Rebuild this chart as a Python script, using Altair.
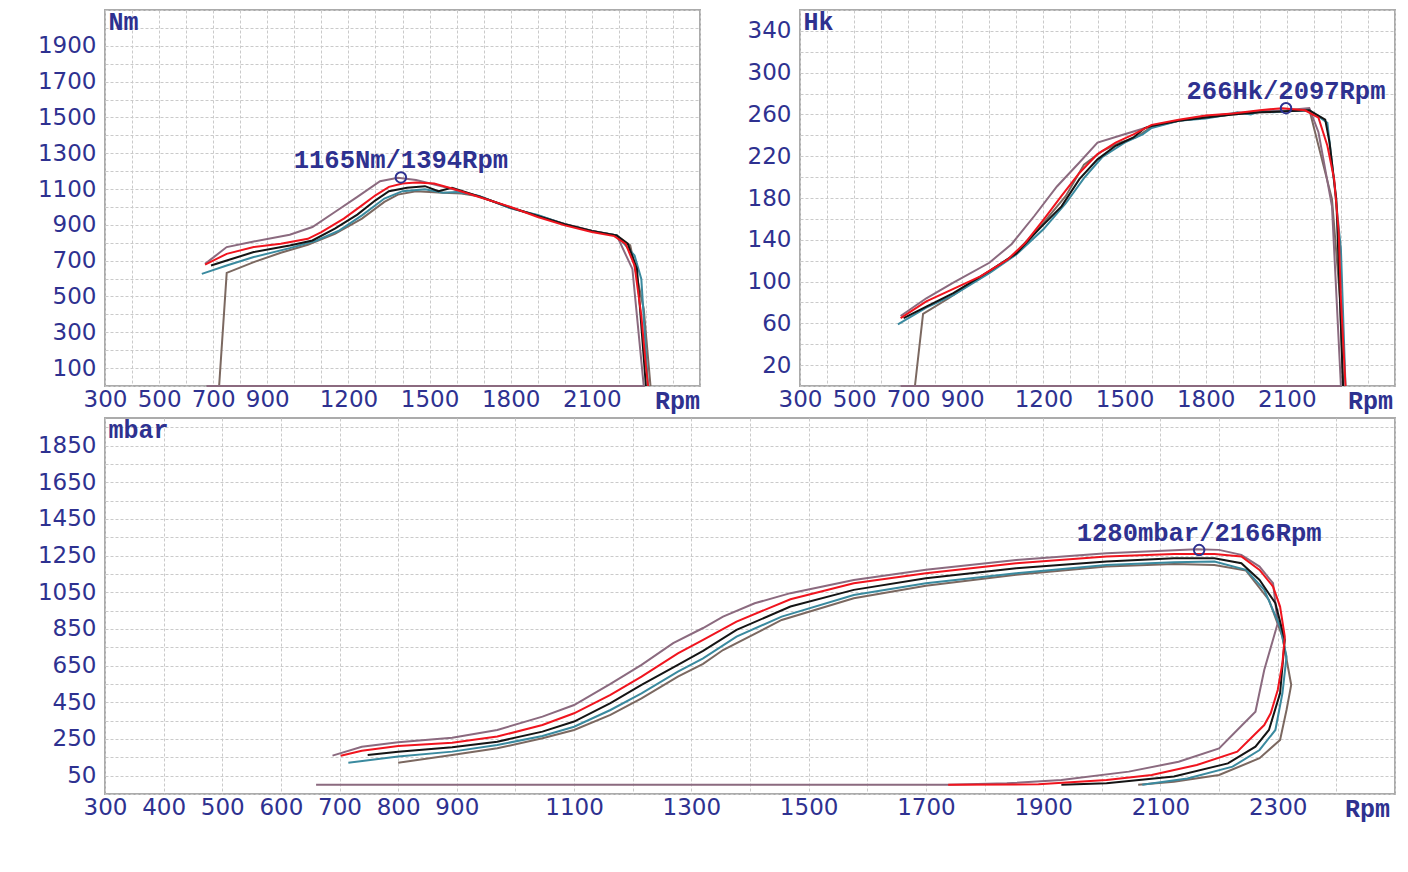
import altair as alt
import pandas as pd

# ---------------- data ----------------
SERIES = ["brown", "mauve", "teal", "black", "red"]
COLORS = ["#7B6860", "#8B6A7F", "#3A8A9F", "#141414", "#F0141E"]

# Torque (Nm)
nm_red_rpm = [670, 750, 850, 950, 1050, 1100, 1183, 1250, 1300, 1350, 1400, 1450, 1517, 1583, 1683, 1800, 1900, 2000, 2100, 2183, 2225, 2258, 2283, 2300, 2308]
nm_red_val = [678, 738, 776, 794, 822, 860, 935, 1009, 1065, 1112, 1131, 1136, 1131, 1103, 1056, 1000, 944, 897, 860, 837, 794, 673, 393, 112, 0]
nm_mauve_rpm = [670, 750, 850, 983, 1067, 1150, 1233, 1317, 1383, 1450, 1567, 1683, 1800, 1900, 2000, 2100, 2192, 2250, 2292, 675]
nm_mauve_val = [682, 776, 807, 845, 888, 972, 1056, 1144, 1163, 1150, 1107, 1060, 995, 952, 905, 867, 841, 654, 0, 0]
nm_black_rpm = [692, 750, 850, 983, 1067, 1150, 1233, 1300, 1350, 1417, 1483, 1533, 1583, 1683, 1800, 1900, 2000, 2100, 2192, 2233, 2267, 2300]
nm_black_val = [673, 701, 748, 785, 813, 879, 957, 1037, 1088, 1107, 1116, 1088, 1107, 1058, 997, 950, 903, 866, 841, 794, 654, 0]
nm_teal_rpm = [658, 750, 850, 983, 1083, 1167, 1250, 1333, 1400, 1483, 1550, 1600, 1683, 1800, 1900, 2000, 2100, 2192, 2258, 2283, 2308]
nm_teal_val = [626, 673, 720, 770, 813, 869, 953, 1047, 1088, 1099, 1080, 1084, 1062, 992, 955, 902, 865, 841, 729, 598, 0]
nm_brown_rpm = [722, 750, 850, 950, 1050, 1150, 1250, 1333, 1383, 1450, 1550, 1617, 1683, 1800, 1900, 2000, 2100, 2192, 2242, 2292, 2317]
nm_brown_val = [0, 632, 692, 744, 789, 850, 935, 1028, 1069, 1088, 1080, 1075, 1060, 994, 951, 904, 866, 841, 785, 430, 0]

# Power (Hk)
hk_red_rpm = [672, 767, 867, 967, 1067, 1133, 1200, 1267, 1333, 1400, 1467, 1533, 1600, 1700, 1800, 1900, 2000, 2083, 2167, 2217, 2250, 2275, 2292, 2300, 2317]
hk_red_val = [65, 81, 93, 105, 121, 137, 159, 182, 204, 222, 233, 241, 250, 255, 259, 261, 264, 266, 264, 257, 230, 198, 147, 83, 0]
hk_mauve_rpm = [672, 767, 867, 1000, 1083, 1167, 1250, 1333, 1400, 1500, 1600, 1700, 1800, 1900, 2000, 2100, 2183, 2217, 2267, 2300, 672]
hk_mauve_val = [67, 84, 99, 118, 136, 163, 191, 214, 233, 241, 249, 254, 258, 261, 263, 264, 266, 243, 172, 0, 0]
hk_black_rpm = [683, 767, 867, 1000, 1100, 1183, 1267, 1333, 1400, 1467, 1533, 1575, 1600, 1700, 1800, 1900, 2000, 2100, 2183, 2242, 2258, 2283, 2308]
hk_black_val = [65, 76, 89, 110, 127, 150, 172, 198, 217, 230, 238, 247, 249, 254, 257, 260, 262, 263, 264, 255, 233, 179, 0]
hk_teal_rpm = [662, 767, 867, 1000, 1100, 1200, 1283, 1350, 1417, 1500, 1567, 1600, 1700, 1800, 1867, 1917, 1967, 2000, 2050, 2100, 2183, 2250, 2275, 2300, 2317]
hk_teal_val = [59, 75, 87, 108, 126, 150, 175, 199, 219, 233, 241, 247, 254, 256, 259, 262, 260, 263, 262, 263, 264, 252, 195, 131, 0]
hk_brown_rpm = [725, 755, 850, 983, 1083, 1183, 1283, 1350, 1417, 1483, 1542, 1600, 1700, 1800, 1900, 2000, 2100, 2183, 2267, 2297, 2308]
hk_brown_val = [0, 69, 84, 107, 124, 151, 182, 212, 225, 233, 238, 248, 254, 257, 260, 262, 263, 265, 179, 83, 0]

# Boost (mbar)
mb_red_rpm = [702, 738, 800, 892, 969, 1046, 1100, 1162, 1215, 1277, 1320, 1377, 1469, 1577, 1700, 1854, 2008, 2123, 2192, 2238, 2269, 2292, 2304, 2312, 2308, 2300, 2288, 2277, 2231, 2162, 2085, 2008, 1892, 1738]
mb_red_val = [159, 186, 212, 230, 263, 326, 390, 490, 590, 717, 790, 890, 1012, 1099, 1154, 1208, 1245, 1259, 1259, 1245, 1172, 1081, 972, 808, 663, 517, 390, 326, 181, 108, 54, 26, 3, 0]
mb_mauve_rpm = [688, 738, 800, 892, 969, 1046, 1100, 1162, 1215, 1269, 1320, 1354, 1408, 1469, 1577, 1700, 1854, 2008, 2162, 2200, 2238, 2269, 2292, 2300, 2277, 2262, 2231, 2200, 2131, 2046, 1931, 1838, 1738, 660]
mb_mauve_val = [159, 208, 232, 257, 299, 372, 435, 550, 654, 772, 855, 917, 990, 1045, 1117, 1172, 1226, 1263, 1285, 1281, 1254, 1190, 1099, 881, 626, 399, 299, 199, 126, 72, 26, 8, 0, 0]
mb_black_rpm = [748, 800, 892, 969, 1046, 1100, 1162, 1215, 1277, 1320, 1377, 1469, 1577, 1700, 1854, 2008, 2123, 2192, 2238, 2269, 2296, 2312, 2304, 2285, 2262, 2215, 2123, 2008, 1931]
mb_black_val = [163, 181, 205, 235, 290, 345, 445, 545, 654, 730, 845, 972, 1063, 1126, 1181, 1217, 1235, 1235, 1208, 1117, 990, 790, 499, 299, 208, 117, 45, 8, 0]
mb_teal_rpm = [715, 800, 892, 969, 1046, 1100, 1162, 1215, 1277, 1320, 1377, 1454, 1577, 1700, 1854, 2008, 2123, 2192, 2246, 2277, 2304, 2315, 2308, 2296, 2269, 2223, 2146, 2069]
mb_teal_val = [121, 154, 181, 217, 266, 317, 408, 499, 617, 690, 808, 917, 1035, 1099, 1154, 1199, 1214, 1217, 1172, 1063, 863, 699, 499, 299, 190, 99, 35, 0]
mb_brown_rpm = [800, 892, 969, 1046, 1100, 1162, 1215, 1277, 1320, 1354, 1454, 1577, 1700, 1854, 2008, 2123, 2192, 2246, 2285, 2308, 2323, 2315, 2304, 2269, 2200, 2123, 2062]
mb_brown_val = [121, 163, 199, 254, 299, 381, 472, 590, 660, 735, 899, 1017, 1086, 1145, 1190, 1204, 1199, 1168, 1008, 808, 545, 408, 245, 145, 54, 17, 0]

# peaks
nm_peak = {"rpm": [1394], "val": [1165], "label": ["1165Nm/1394Rpm"]}
hk_peak = {"rpm": [2097], "val": [266], "label": ["266Hk/2097Rpm"]}
mb_peak = {"rpm": [2166], "val": [1280], "label": ["1280mbar/2166Rpm"]}

# axis ticks
top_x_labels = [300, 500, 700, 900, 1200, 1500, 1800, 2100]
bot_x_labels = [300, 400, 500, 600, 700, 800, 900, 1100, 1300, 1500, 1700, 1900, 2100, 2300]
x_grid = list(range(300, 2501, 100))
nm_grid = list(range(0, 2101, 100))
nm_labels = list(range(100, 2000, 200))
hk_grid = list(range(0, 361, 20))
hk_labels = list(range(20, 341, 40))
mb_grid = list(range(-50, 2001, 100))
mb_labels = list(range(50, 1851, 200))

NAVY = "#2E3190"
TICK_FONT = "DejaVu Sans"
MONO = "Liberation Mono"


def frame(parts):
    rows = []
    for name, rpm, val in parts:
        for i, (r, v) in enumerate(zip(rpm, val)):
            rows.append({"series": name, "rpm": r, "val": v, "idx": i})
    return pd.DataFrame(rows)


def label_expr(vals):
    arr = ",".join(str(v) for v in vals)
    return f"indexof([{arr}], datum.value) >= 0 ? datum.label : ''"


def panel(df, peak, width, xlabels, ygrid, ylabels, ydom, unit, rpm_title_x):
    xaxis = alt.Axis(
        values=x_grid, labelExpr=label_expr(xlabels), format="d",
        grid=True, gridColor="#CACACA", gridDash=[3, 2], gridWidth=1,
        ticks=False, domain=False, labelFlush=False, labelOverlap=False,
        labelPadding=2, labelFont=TICK_FONT, labelFontSize=23, labelColor=NAVY,
        title="Rpm", titleX=rpm_title_x, titleY=14, titleAlign="center",
        titleBaseline="middle", titleFont=MONO, titleFontSize=25,
        titleFontWeight="bold", titleColor=NAVY,
    )
    yaxis = alt.Axis(
        values=ygrid, labelExpr=label_expr(ylabels), format="d",
        grid=True, gridColor="#CACACA", gridDash=[3, 2], gridWidth=1,
        ticks=False, domain=False, labelFlush=False, labelOverlap=False,
        labelPadding=9, labelFont=TICK_FONT, labelFontSize=23, labelColor=NAVY,
        title=unit, titleAngle=0, titleX=3, titleY=11, titleAlign="left",
        titleBaseline="middle", titleFont=MONO, titleFontSize=25,
        titleFontWeight="bold", titleColor=NAVY,
    )
    xs = alt.Scale(domain=[300, 2500], nice=False, zero=False)
    ys = alt.Scale(domain=ydom, nice=False, zero=False)
    X = alt.X("rpm:Q", scale=xs, axis=xaxis)
    Y = alt.Y("val:Q", scale=ys, axis=yaxis)
    lines = alt.Chart(df).mark_line(strokeWidth=2).encode(
        x=X, y=Y,
        color=alt.Color("series:N", scale=alt.Scale(domain=SERIES, range=COLORS), legend=None),
        order="idx:Q",
    )
    pk = pd.DataFrame(peak)
    circ = alt.Chart(pk).mark_point(shape="circle", filled=False, size=110,
                                    strokeWidth=2, color=NAVY, opacity=1).encode(x=X, y=Y)
    txt = alt.Chart(pk).mark_text(font=MONO, fontSize=25.5, fontWeight="bold",
                                  color=NAVY, baseline="alphabetic", dy=-9).encode(
        x=X, y=Y, text="label:N")
    return alt.layer(lines, circ, txt).properties(width=width, height=376)


nm_df = frame([
    ("brown", nm_brown_rpm, nm_brown_val), ("mauve", nm_mauve_rpm, nm_mauve_val),
    ("teal", nm_teal_rpm, nm_teal_val), ("black", nm_black_rpm, nm_black_val),
    ("red", nm_red_rpm, nm_red_val)])
hk_df = frame([
    ("brown", hk_brown_rpm, hk_brown_val), ("mauve", hk_mauve_rpm, hk_mauve_val),
    ("teal", hk_teal_rpm, hk_teal_val), ("black", hk_black_rpm, hk_black_val),
    ("red", hk_red_rpm, hk_red_val)])
mb_df = frame([
    ("brown", mb_brown_rpm, mb_brown_val), ("mauve", mb_mauve_rpm, mb_mauve_val),
    ("teal", mb_teal_rpm, mb_teal_val), ("black", mb_black_rpm, mb_black_val),
    ("red", mb_red_rpm, mb_red_val)])

nm_chart = panel(nm_df, nm_peak, 595, top_x_labels, nm_grid, nm_labels, [0, 2100], "Nm", 572)
hk_chart = panel(hk_df, hk_peak, 595, top_x_labels, hk_grid, hk_labels, [0, 360], "Hk", 570)
mb_chart = panel(mb_df, mb_peak, 1290, bot_x_labels, mb_grid, mb_labels, [-50, 2000], "mbar", 1262)

top = alt.hconcat(nm_chart, hk_chart, spacing=45)
chart = alt.vconcat(top, mb_chart, spacing=1).properties(
    padding={"left": 28, "top": -10, "right": 3, "bottom": 0},
    background="white",
).configure_view(stroke="#ABABAB", strokeWidth=2, fill="white")

chart.save("out.html", embed_options={"renderer": "svg", "actions": False})
